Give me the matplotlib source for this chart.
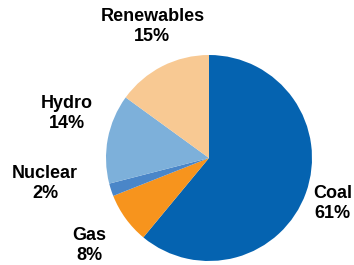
import matplotlib.pyplot as plt

# Generation mix shares (%)
sources = ['Coal', 'Gas', 'Nuclear', 'Hydro', 'Renewables']
shares = [61, 8, 2, 14, 15]
colors = ['#0563B0', '#F7941D', '#4A86C8', '#7DB0DA', '#F8C993']

# label anchor points, in pie-radius units
label_pos = {
    'Coal': (1.20, -0.44),
    'Gas': (-1.16, -0.85),
    'Nuclear': (-1.59, -0.25),
    'Hydro': (-1.38, 0.43),
    'Renewables': (-0.55, 1.28),
}

fig = plt.figure(figsize=(3.54, 2.65), dpi=100)
ax = fig.add_axes([106 / 354, 4 / 265, 206 / 354, 206 / 265])

ax.pie(shares, colors=colors, startangle=90, counterclock=False,
       wedgeprops=dict(linewidth=0))
ax.set_xlim(-1, 1)
ax.set_ylim(-1, 1)
ax.set_aspect('equal')
ax.axis('off')

for name, val in zip(sources, shares):
    x, y = label_pos[name]
    ax.text(x, y, f"{name}\n{val}%", ha='center', va='center',
            fontsize=13, fontweight='bold', family='Liberation Sans',
            linespacing=1.25, clip_on=False)

fig.savefig('out.png', dpi=100)
